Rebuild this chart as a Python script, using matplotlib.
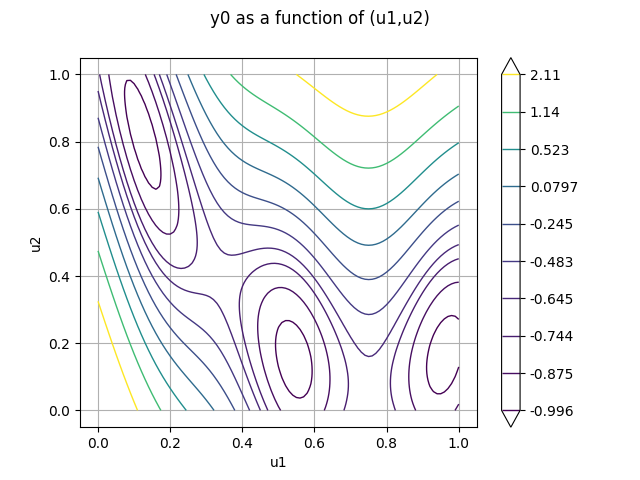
import numpy as np
import matplotlib
matplotlib.use('Agg')
import matplotlib.pyplot as plt

levels = [-0.996, -0.875, -0.744, -0.645, -0.483, -0.245, 0.0797, 0.523, 1.14, 2.11]
level_labels = ['-0.996', '-0.875', '-0.744', '-0.645', '-0.483', '-0.245', '0.0797', '0.523', '1.14', '2.11']

# modele (Branin normalise sur [0,1]^2)
u1 = np.linspace(0.0, 1.0, 101)
u2 = np.linspace(0.0, 1.0, 101)


def branin(a, b):
    x1 = 15.0 * a - 5.0
    x2 = 15.0 * b
    r = (x2 - 5.1 / (4 * np.pi ** 2) * x1 ** 2 + 5.0 * x1 / np.pi - 6.0) ** 2
    r = r + 10.0 * (1.0 - 1.0 / (8.0 * np.pi)) * np.cos(x1) + 10.0
    return (r - 54.8104) / 51.9496


U1, U2 = np.meshgrid(u1, u2)
Y = branin(U1, U2)

fig, ax = plt.subplots(figsize=(6.4, 4.8))
cs = ax.contour(U1, U2, Y, levels=levels, cmap='viridis', extend='both', linewidths=1.0)
cb = fig.colorbar(cs, ax=ax)
cb.set_ticks(levels)
cb.set_ticklabels(level_labels)
ax.set_xlim(-0.05, 1.05)
ax.set_ylim(-0.05, 1.05)
ax.set_xlabel('u1')
ax.set_ylabel('u2')
ax.grid(True)
fig.suptitle('y0 as a function of (u1,u2)')
fig.savefig('out.png', dpi=100)
